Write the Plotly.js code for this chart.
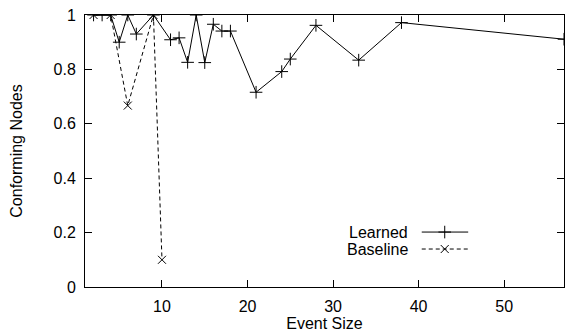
<!DOCTYPE html>
<html>
<head>
<meta charset="utf-8">
<script src="https://cdn.plot.ly/plotly-3.0.1.min.js"></script>
<style>html,body{margin:0;padding:0;background:#fff;}#chart{width:568px;height:334px;}</style>
</head>
<body>
<div id="chart"></div>
<script>
// Data
const learnedX = [2, 3, 4, 5, 6, 7, 9, 11, 12, 13, 14, 15, 16, 17, 18, 21, 24, 25, 28, 33, 38, 57];
const learnedY = [1, 1, 1, 0.9, 1, 0.93, 1, 0.909, 0.916, 0.826, 1, 0.825, 0.966, 0.941, 0.941, 0.716, 0.792, 0.838, 0.962, 0.834, 0.972, 0.911];
const baselineX = [2, 4, 6, 9, 10];
const baselineY = [1, 1, 0.667, 1, 0.1];
const seriesNames = ["Learned", "Baseline"];
const xTitle = "Event Size";
const yTitle = "Conforming Nodes";

const FONT = "Liberation Sans, Arial, Helvetica, sans-serif";
const FS = 16;
const K = "#000";

const plusMarker = {symbol: "cross-thin-open", size: 9, color: K, line: {color: K, width: 1}};
const xMarker = {symbol: "x-thin-open", size: 8, color: K, line: {color: K, width: 1}};

const traces = [
  {x: learnedX, y: learnedY, mode: "lines+markers", name: seriesNames[0],
   line: {color: K, width: 1}, marker: plusMarker},
  {x: baselineX, y: baselineY, mode: "lines+markers", name: seriesNames[1],
   line: {color: K, width: 1, dash: "4px,3px"}, marker: xMarker},
  // legend samples (gnuplot style: text left, sample right)
  {x: [0.703, 0.80], y: [0.202, 0.202], xaxis: "x2", yaxis: "y2", mode: "lines",
   line: {color: K, width: 1}, hoverinfo: "skip"},
  {x: [0.751], y: [0.202], xaxis: "x2", yaxis: "y2", mode: "markers",
   marker: plusMarker, hoverinfo: "skip"},
  {x: [0.703, 0.80], y: [0.1396, 0.1396], xaxis: "x2", yaxis: "y2", mode: "lines",
   line: {color: K, width: 1, dash: "4px,3px"}, hoverinfo: "skip"},
  {x: [0.751], y: [0.1396], xaxis: "x2", yaxis: "y2", mode: "markers",
   marker: xMarker, hoverinfo: "skip"}
];

const tf = {family: FONT, size: FS, color: K};

const layout = {
  width: 568, height: 334,
  margin: {l: 85, r: 4, t: 15, b: 47, pad: 0},
  paper_bgcolor: "#fff", plot_bgcolor: "#fff",
  showlegend: false,
  font: tf,
  xaxis: {
    range: [1, 57], tick0: 0, dtick: 10, showgrid: false, zeroline: false,
    showline: true, linecolor: K, linewidth: 1, mirror: "ticks",
    ticks: "inside", ticklen: 7, tickcolor: K, tickwidth: 1,
    ticklabelstandoff: 5,
    tickfont: tf,
    title: {text: xTitle, font: tf, standoff: 3}
  },
  yaxis: {
    range: [0, 1], tick0: 0, dtick: 0.2, showgrid: false, zeroline: false,
    showline: true, linecolor: K, linewidth: 1, mirror: "ticks",
    ticks: "inside", ticklen: 7, tickcolor: K, tickwidth: 1,
    ticklabelstandoff: 5,
    tickfont: tf,
    title: {text: yTitle, font: tf, standoff: 26}
  },
  xaxis2: {overlaying: "x", range: [0, 1], visible: false, fixedrange: true},
  yaxis2: {overlaying: "y", range: [0, 1], visible: false, fixedrange: true},
  annotations: [
    {xref: "paper", yref: "paper", x: 0.678, y: 0.202, xanchor: "right", yanchor: "middle",
     text: seriesNames[0], showarrow: false, font: tf},
    {xref: "paper", yref: "paper", x: 0.678, y: 0.1396, xanchor: "right", yanchor: "middle",
     text: seriesNames[1], showarrow: false, font: tf}
  ]
};

Plotly.newPlot("chart", traces, layout, {displayModeBar: false, staticPlot: true});
</script>
</body>
</html>
